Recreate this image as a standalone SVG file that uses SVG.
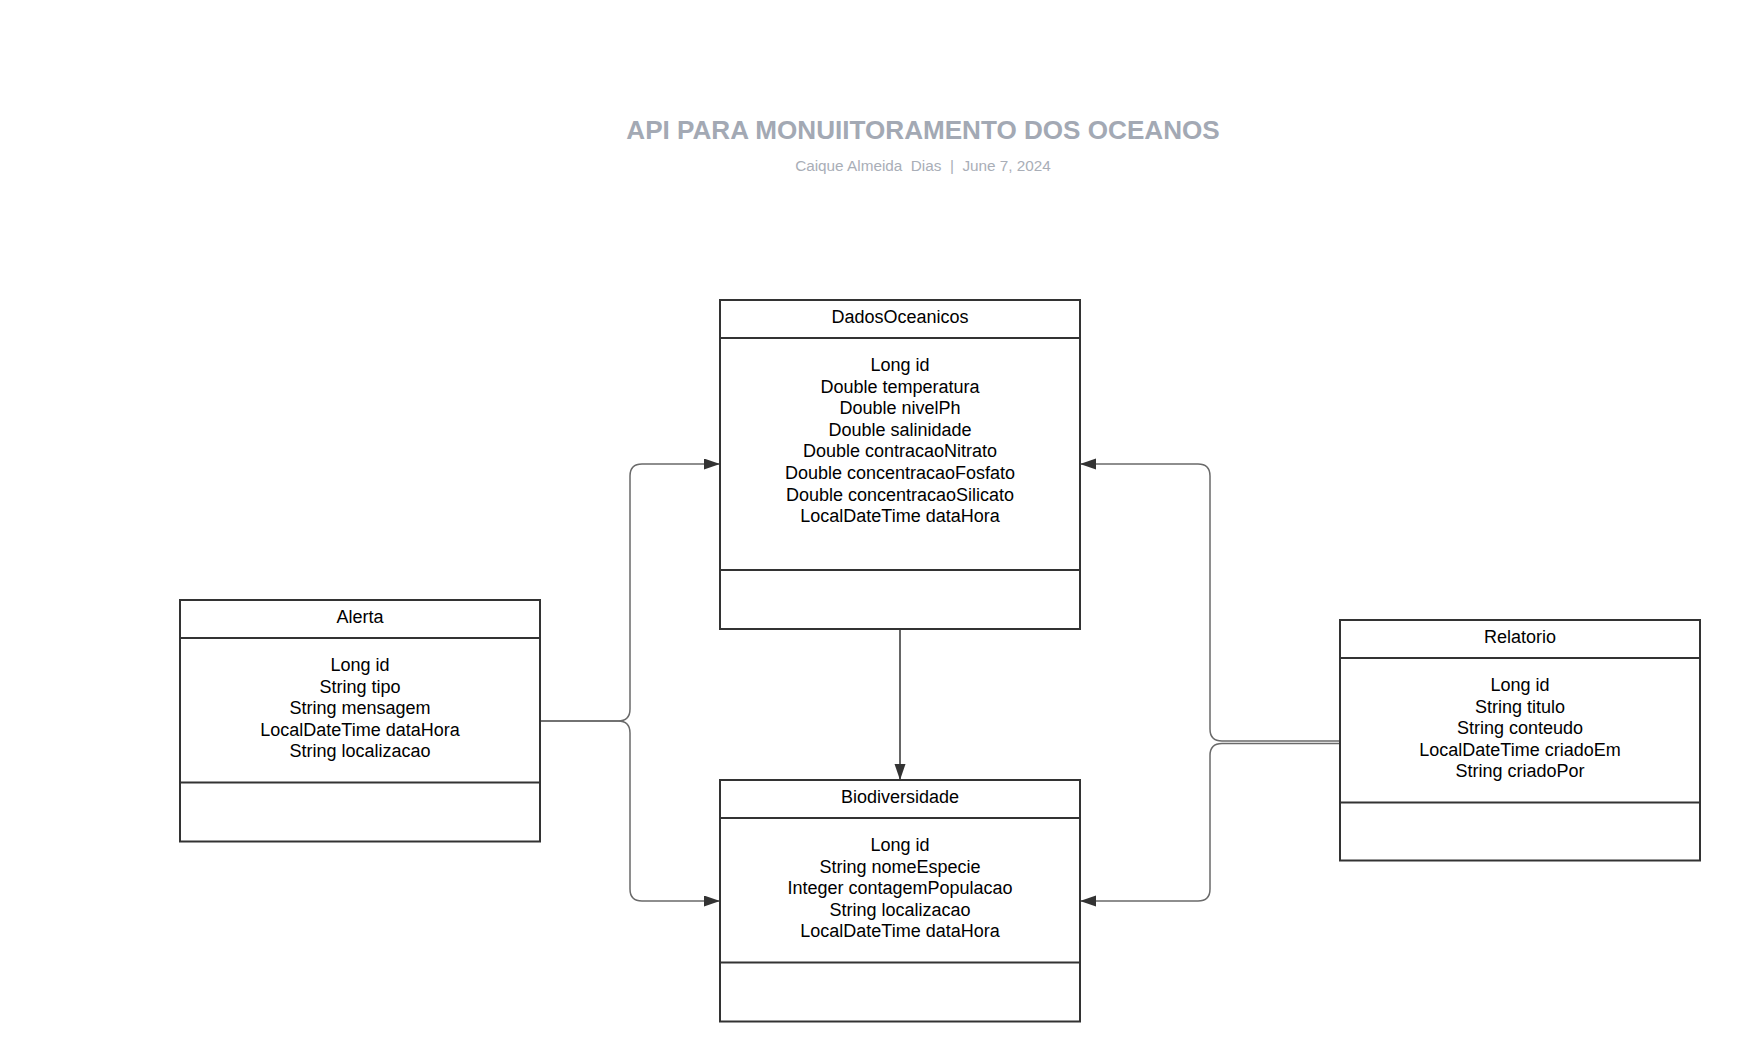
<svg xmlns="http://www.w3.org/2000/svg" width="1740" height="1062" viewBox="0 0 1740 1062">
<style>
.box{fill:#fff;stroke:#333;stroke-width:2}
.sep{stroke:#333;stroke-width:2}
.t{font-family:"Liberation Sans",Arial,sans-serif;font-size:18px;fill:#000;text-anchor:middle}
.title{font-family:"Liberation Sans",Arial,sans-serif;font-size:26.1px;font-weight:bold;fill:#a3a9b4;text-anchor:middle}
.sub{font-family:"Liberation Sans",Arial,sans-serif;font-size:15.3px;fill:#a9aeb7;text-anchor:middle}
.c{fill:none;stroke:#6a6a6a;stroke-width:1.5}
.cd{fill:none;stroke:#333;stroke-width:1.5}
</style>
<defs>
<marker id="arr" markerUnits="userSpaceOnUse" markerWidth="17" markerHeight="12" refX="16" refY="5.5" orient="auto">
<path d="M0,0 L16,5.5 L0,11 z" fill="#333"/>
</marker>
</defs>
<rect width="1740" height="1062" fill="#fff"/>
<g id="title">
<text class="title" x="923" y="138.5">API PARA MONUIITORAMENTO DOS OCEANOS</text>
<text class="sub" x="923" y="171" xml:space="preserve">Caique Almeida  Dias  |  June 7, 2024</text>
</g>
<g id="connectors">
<path class="c" d="M540,721 L618,721 Q630,721 630,709 L630,476 Q630,464 642,464 L720,464" marker-end="url(#arr)"/>
<path class="c" d="M540,721 L618,721 Q630,721 630,733 L630,889 Q630,901 642,901 L720,901" marker-end="url(#arr)"/>
<path class="c" d="M1340,741 L1222,741 Q1210,741 1210,729 L1210,476 Q1210,464 1198,464 L1080,464" marker-end="url(#arr)"/>
<path class="c" d="M1340,743.5 L1222,743.5 Q1210,743.5 1210,755.5 L1210,889 Q1210,901 1198,901 L1080,901" marker-end="url(#arr)"/>
<path class="cd" d="M900,629 L900,780" marker-end="url(#arr)"/>
</g>
<g id="DadosOceanicos">
<rect class="box" x="720" y="300" width="360" height="329"/>
<line class="sep" x1="720" y1="338" x2="1080" y2="338"/>
<line class="sep" x1="720" y1="570" x2="1080" y2="570"/>
<text class="t" x="900" y="322.5">DadosOceanicos</text>
<text class="t" x="900" y="371">Long id</text>
<text class="t" x="900" y="392.6">Double temperatura</text>
<text class="t" x="900" y="414.2">Double nivelPh</text>
<text class="t" x="900" y="435.8">Double salinidade</text>
<text class="t" x="900" y="457.4">Double contracaoNitrato</text>
<text class="t" x="900" y="479">Double concentracaoFosfato</text>
<text class="t" x="900" y="500.6">Double concentracaoSilicato</text>
<text class="t" x="900" y="522.2">LocalDateTime dataHora</text>
</g>
<g id="Alerta">
<rect class="box" x="180" y="600" width="360" height="241.5"/>
<line class="sep" x1="180" y1="638" x2="540" y2="638"/>
<line class="sep" x1="180" y1="782.5" x2="540" y2="782.5"/>
<text class="t" x="360" y="622.5">Alerta</text>
<text class="t" x="360" y="671">Long id</text>
<text class="t" x="360" y="692.6">String tipo</text>
<text class="t" x="360" y="714.2">String mensagem</text>
<text class="t" x="360" y="735.8">LocalDateTime dataHora</text>
<text class="t" x="360" y="757.4">String localizacao</text>
</g>
<g id="Biodiversidade">
<rect class="box" x="720" y="780" width="360" height="241.5"/>
<line class="sep" x1="720" y1="818" x2="1080" y2="818"/>
<line class="sep" x1="720" y1="962.5" x2="1080" y2="962.5"/>
<text class="t" x="900" y="802.5">Biodiversidade</text>
<text class="t" x="900" y="851">Long id</text>
<text class="t" x="900" y="872.6">String nomeEspecie</text>
<text class="t" x="900" y="894.2">Integer contagemPopulacao</text>
<text class="t" x="900" y="915.8">String localizacao</text>
<text class="t" x="900" y="937.4">LocalDateTime dataHora</text>
</g>
<g id="Relatorio">
<rect class="box" x="1340" y="620" width="360" height="240.5"/>
<line class="sep" x1="1340" y1="658" x2="1700" y2="658"/>
<line class="sep" x1="1340" y1="802.5" x2="1700" y2="802.5"/>
<text class="t" x="1520" y="642.5">Relatorio</text>
<text class="t" x="1520" y="691">Long id</text>
<text class="t" x="1520" y="712.6">String titulo</text>
<text class="t" x="1520" y="734.2">String conteudo</text>
<text class="t" x="1520" y="755.8">LocalDateTime criadoEm</text>
<text class="t" x="1520" y="777.4">String criadoPor</text>
</g>
</svg>
